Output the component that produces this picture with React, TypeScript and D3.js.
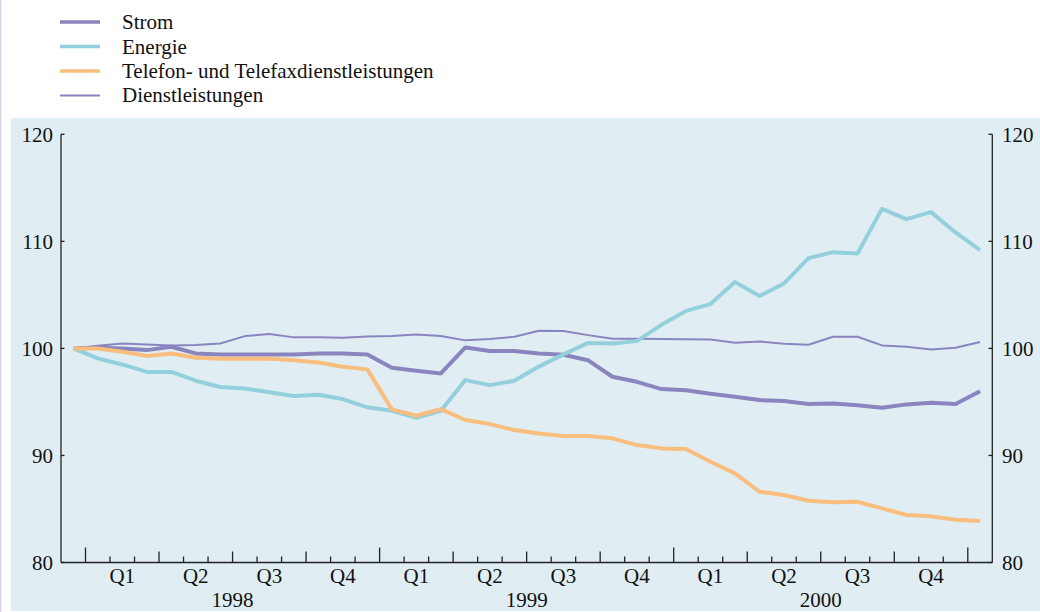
import React from "react";
import * as d3 from "d3";

// Monthly values, Dec 1997 .. Jan 2001 (38 points)
const strom = [100, 100.05, 100.0, 99.84, 100.15, 99.53, 99.44, 99.44, 99.44, 99.44, 99.53, 99.53, 99.44, 98.19, 97.91, 97.66, 100.09, 99.75, 99.75, 99.53, 99.4, 98.9, 97.35, 96.88, 96.2, 96.1, 95.76, 95.48, 95.17, 95.08, 94.8, 94.86, 94.7, 94.45, 94.77, 94.92, 94.8, 96.0];
const energie = [100, 99.07, 98.5, 97.8, 97.8, 96.98, 96.4, 96.26, 95.9, 95.55, 95.67, 95.27, 94.5, 94.17, 93.52, 94.17, 97.04, 96.57, 96.98, 98.3, 99.44, 100.5, 100.46, 100.68, 102.2, 103.5, 104.14, 106.2, 104.9, 106.07, 108.43, 108.99, 108.87, 113.04, 112.07, 112.73, 110.83, 109.18];
const telefon = [100, 100, 99.69, 99.3, 99.53, 99.12, 99.03, 99.03, 99.03, 98.9, 98.69, 98.28, 98.04, 94.3, 93.71, 94.33, 93.31, 92.93, 92.37, 92.06, 91.81, 91.81, 91.6, 90.97, 90.66, 90.6, 89.41, 88.33, 86.61, 86.3, 85.77, 85.62, 85.68, 85.06, 84.44, 84.31, 84.0, 83.87];
const dienst = [100, 100.25, 100.46, 100.37, 100.28, 100.31, 100.46, 101.15, 101.34, 101.03, 101.03, 100.99, 101.12, 101.15, 101.3, 101.15, 100.75, 100.87, 101.09, 101.65, 101.62, 101.24, 100.9, 100.9, 100.87, 100.86, 100.84, 100.53, 100.65, 100.43, 100.34, 101.09, 101.09, 100.28, 100.15, 99.9, 100.06, 100.59];

const years = ["1998", "1999", "2000"];
const quarters = ["Q1", "Q2", "Q3", "Q4"];
const yTicks = [80, 90, 100, 110, 120];

const seriesNames = ["Strom", "Energie", "Telefon- und Telefaxdienstleistungen", "Dienstleistungen"];

const W = 1040;
const H = 612;
const FONT = "'Liberation Serif', 'Times New Roman', serif";
const FS = 21;

const C_PURPLE = "#8a85be";
const C_CYAN = "#94d0dc";
const C_ORANGE = "#f9bd7e";

export default function App() {
  const nMonths = strom.length; // 38 month slots
  const x = d3.scaleLinear().domain([0, nMonths]).range([61, 992.3]);
  const y = d3.scaleLinear().domain([80, 120]).range([562.5, 134.3]);

  const line = d3
    .line<number>()
    .x((_, i) => x(i + 0.5))
    .y((d) => y(d));

  const series = [
    { name: seriesNames[0], data: strom, color: C_PURPLE, w: 4 },
    { name: seriesNames[1], data: energie, color: C_CYAN, w: 4 },
    { name: seriesNames[2], data: telefon, color: C_ORANGE, w: 4 },
    { name: seriesNames[3], data: dienst, color: C_PURPLE, w: 2 },
  ];
  const drawOrder = [3, 0, 1, 2];

  // x ticks at month boundaries 1..37
  const ticks = d3.range(1, nMonths);
  const tickLen = (m: number) => {
    const k = m - 1;
    if (k % 12 === 0) return 15;
    if (k % 3 === 0) return 11;
    return 6;
  };

  const axisY = y(80);

  return (
    <svg
      width={W}
      height={H}
      style={{ position: "absolute", left: 0, top: 0, background: "#fff" }}
      fontFamily={FONT}
    >
      <line x1={0.5} x2={0.5} y1={0} y2={H} stroke="#d6d4ee" strokeWidth={1.5} />
      <rect x={11} y={118} width={W - 11} height={H - 118 - 1} fill="#e0eef3" />

      {/* legend */}
      {series.map((s, i) => (
        <g key={s.name}>
          <line
            x1={60}
            x2={100}
            y1={22 + i * 24.5}
            y2={22 + i * 24.5}
            stroke={s.color}
            strokeWidth={s.w === 4 ? 3.5 : 2}
          />
          <text x={122} y={29.3 + i * 24.3} fontSize={FS} fill="#111">
            {s.name}
          </text>
        </g>
      ))}

      {/* y axes */}
      <line x1={61} x2={61} y1={y(120)} y2={axisY} stroke="#222" strokeWidth={1.3} />
      <line x1={992.3} x2={992.3} y1={y(120)} y2={axisY} stroke="#222" strokeWidth={1.3} />
      {yTicks.map((t) => (
        <g key={t}>
          <line x1={61} x2={64.5} y1={y(t)} y2={y(t)} stroke="#222" strokeWidth={1.3} />
          <line x1={988.5} x2={992.3} y1={y(t)} y2={y(t)} stroke="#222" strokeWidth={1.3} />
          <text x={53} y={y(t)} dy="0.35em" textAnchor="end" fontSize={FS} fill="#111">
            {t}
          </text>
          <text x={1002} y={y(t)} dy="0.35em" textAnchor="start" fontSize={FS} fill="#111">
            {t}
          </text>
        </g>
      ))}

      {/* x axis */}
      <line x1={61} x2={992.3} y1={axisY} y2={axisY} stroke="#222" strokeWidth={1.3} />
      {ticks.map((m) => (
        <line
          key={m}
          x1={x(m)}
          x2={x(m)}
          y1={axisY}
          y2={axisY - tickLen(m)}
          stroke="#222"
          strokeWidth={1.3}
        />
      ))}
      {years.map((yr, yi) =>
        quarters.map((q, qi) => (
          <text
            key={yr + q}
            x={x(1 + yi * 12 + qi * 3 + 1.5)}
            y={583.3}
            textAnchor="middle"
            fontSize={FS}
            fill="#111"
          >
            {q}
          </text>
        ))
      )}
      {years.map((yr, yi) => (
        <text key={yr} x={x(1 + yi * 12 + 6)} y={607.3} textAnchor="middle" fontSize={FS} fill="#111">
          {yr}
        </text>
      ))}

      {/* series */}
      {drawOrder.map((i) => {
        const s = series[i];
        return (
          <path
            key={s.name}
            d={line(s.data) || ""}
            fill="none"
            stroke={s.color}
            strokeWidth={s.w}
            strokeLinejoin="round"
          />
        );
      })}
    </svg>
  );
}
